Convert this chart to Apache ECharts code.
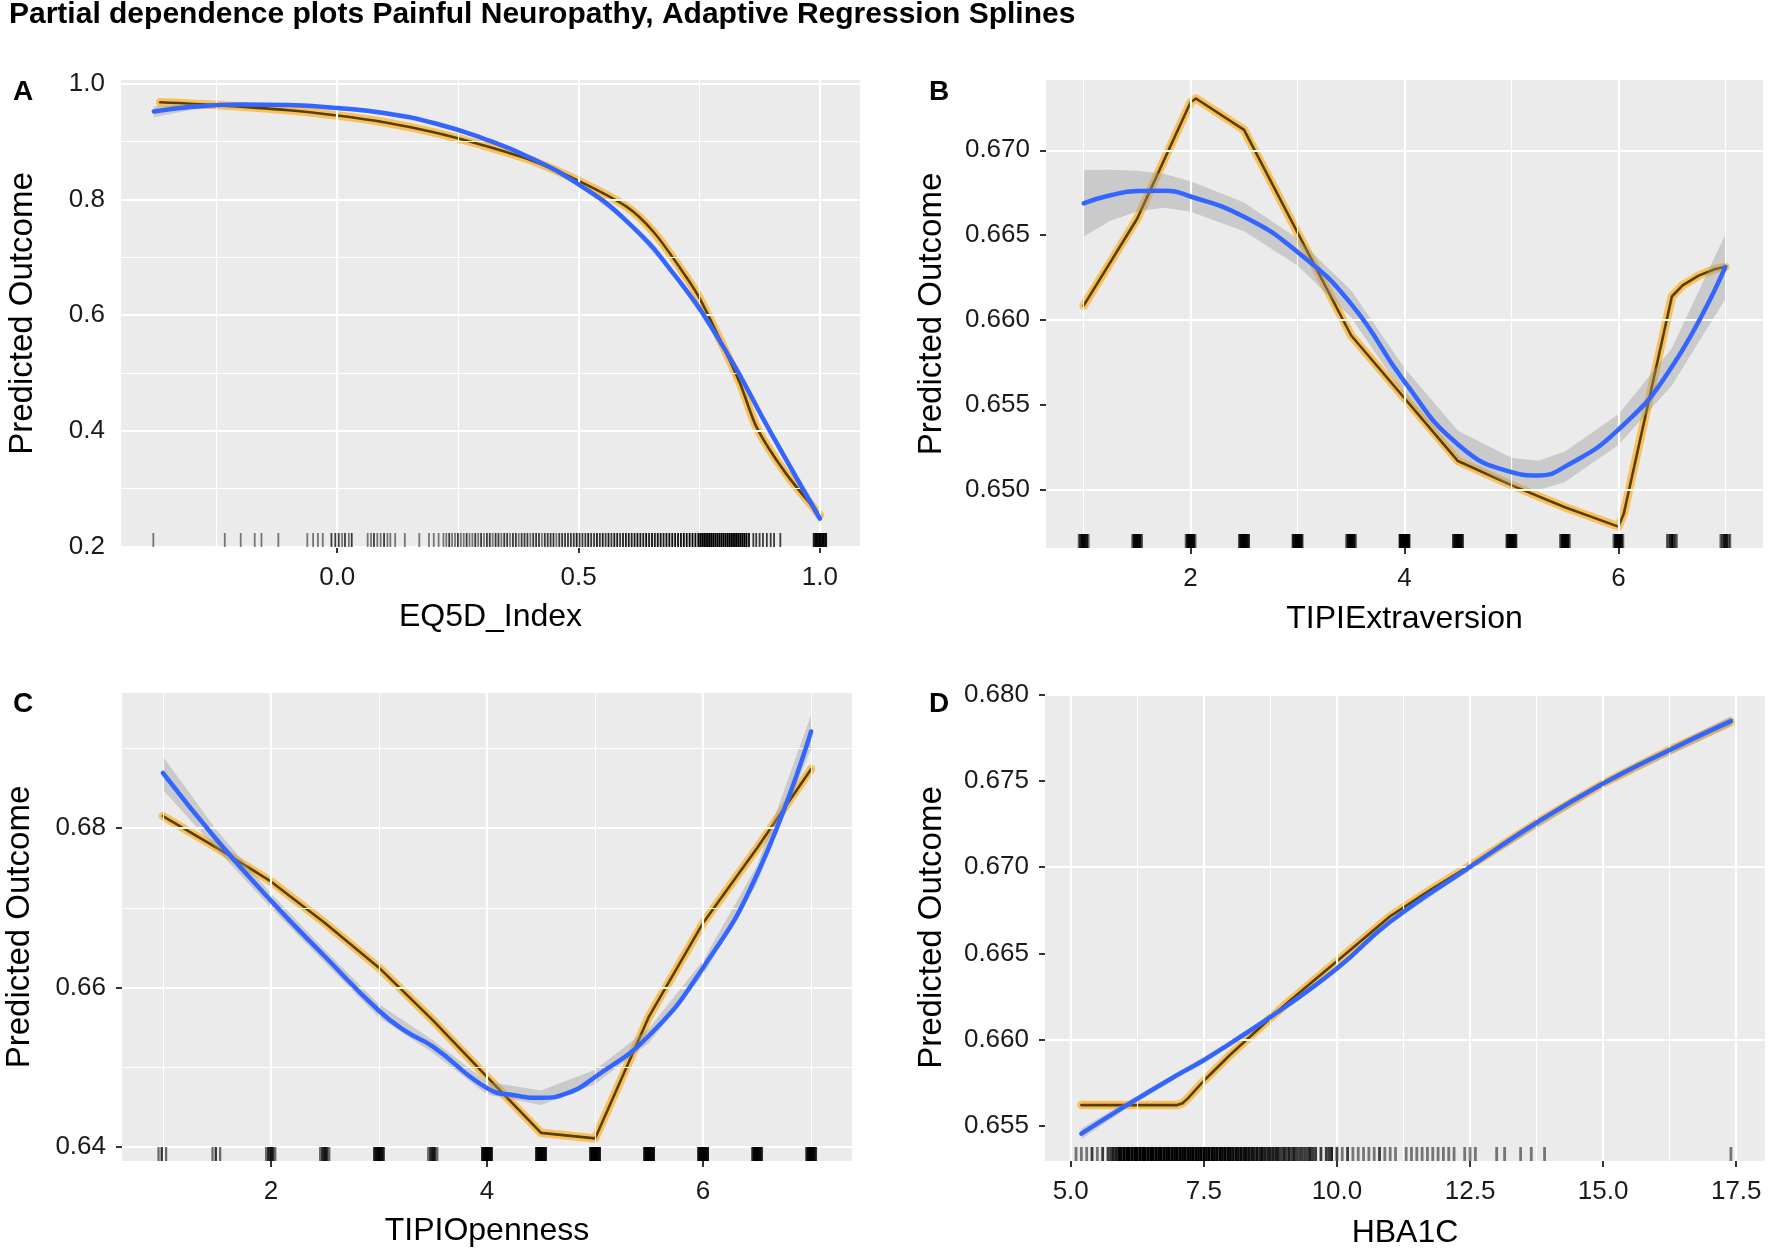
<!DOCTYPE html>
<html><head><meta charset="utf-8">
<script src="https://cdn.jsdelivr.net/npm/echarts@6/dist/echarts.min.js"></script>
<style>html,body{margin:0;padding:0;background:#fff}#c{width:1776px;height:1248px}</style>
</head><body><div id="c"></div><script>
// ---------- text ----------
const titleText = 'Partial dependence plots Painful Neuropathy, Adaptive Regression Splines';
const panelTags = ['A', 'B', 'C', 'D'];
const xNames = ['EQ5D_Index', 'TIPIExtraversion', 'TIPIOpenness', 'HBA1C'];
const yName = 'Predicted Outcome';

// ---------- tick labels / grid values ----------
const xMajorA = [0, 0.5, 1.0];            const xMinorA = [-0.25, 0.25, 0.75];
const yMajorA = [0.2, 0.4, 0.6, 0.8, 1.0]; const yMinorA = [0.3, 0.5, 0.7, 0.9];
const xMajorB = [2, 4, 6];                 const xMinorB = [1, 3, 5, 7];
const yMajorB = [0.650, 0.655, 0.660, 0.665, 0.670];
const yMinorB = [0.6475, 0.6525, 0.6575, 0.6625, 0.6675, 0.6725];
const xMajorC = [2, 4, 6];                 const xMinorC = [1, 3, 5, 7];
const yMajorC = [0.64, 0.66, 0.68];        const yMinorC = [0.65, 0.67, 0.69];
const xMajorD = [5, 7.5, 10, 12.5, 15, 17.5];
const xMinorD = [6.25, 8.75, 11.25, 13.75, 16.25];
const yMajorD = [0.655, 0.660, 0.665, 0.670, 0.675, 0.680];
const yMinorD = [0.6575, 0.6625, 0.6675, 0.6725, 0.6775];

// ---------- series values ----------
// PDP (MARS) curves
const orangeA = [[-0.367,0.968],[-0.25,0.963],[-0.1,0.954],[0,0.945],[0.1,0.933],[0.2,0.916],[0.3,0.894],[0.4,0.868],[0.5,0.832],[0.6,0.787],[0.655,0.744],[0.713,0.678],[0.748,0.633],[0.8,0.545],[0.835,0.481],[0.87,0.404],[0.928,0.328],[1.0,0.254]];
const orangeB = [[1,0.66085],[1.5,0.66597],[2,0.67283],[2.05,0.67305],[2.5,0.6712],[3.5,0.65911],[4.5,0.6517],[5,0.65028],[5.5,0.64898],[6,0.64784],[6.05,0.6486],[6.5,0.66139],[6.6,0.66205],[6.75,0.66262],[6.9,0.663],[7,0.66314]];
const orangeC = [[1,0.6815],[1.5,0.6775],[2,0.6733],[2.5,0.6681],[3,0.6625],[3.5,0.6559],[4,0.6488],[4.5,0.6418],[5,0.6411],[5.5,0.6564],[6,0.6681],[6.5,0.6775],[7,0.6874]];
const orangeD = [[5.2,0.65621],[6,0.65621],[7,0.65621],[7.1,0.65632],[7.2,0.6566],[7.5,0.65762],[8,0.65914],[8.5,0.66055],[9,0.66195],[9.5,0.66325],[10,0.66455],[10.5,0.66585],[11,0.66715],[11.75,0.66867],[12.5,0.67008],[13.75,0.67257],[15,0.67484],[16.25,0.67679],[17.4,0.67842]];
// smoothed fits
const blueA = [[-0.38,0.952],[-0.3,0.960],[-0.2,0.964],[-0.1,0.963],[0,0.958],[0.1,0.949],[0.2,0.932],[0.3,0.906],[0.4,0.872],[0.5,0.826],[0.6,0.762],[0.7,0.668],[0.8,0.545],[0.9,0.394],[1.0,0.248]];
const blueB = [[1,0.66688],[1.25,0.66735],[1.5,0.6676],[1.75,0.66762],[2,0.66728],[2.5,0.66608],[3,0.66401],[3.5,0.66096],[4,0.65638],[4.5,0.65268],[5,0.65105],[5.25,0.65085],[5.5,0.65137],[6,0.65355],[6.5,0.65725],[7,0.66314]];
const blueC = [[1,0.6869],[1.5,0.6785],[2,0.6709],[2.5,0.6639],[3,0.6571],[3.25,0.6545],[3.5,0.6526],[4,0.6474],[4.25,0.6465],[4.5,0.6462],[4.75,0.6468],[5,0.6488],[5.5,0.654],[6,0.6625],[6.5,0.6742],[7,0.6921]];
const blueD = [[5.2,0.65455],[6,0.65611],[7,0.65795],[7.5,0.65881],[8,0.65979],[9,0.66184],[10,0.66412],[11,0.66683],[12.5,0.67001],[13.75,0.67257],[15,0.67484],[16.25,0.67679],[17.4,0.67846]];
// confidence ribbons [x, low, high]
const ribbonA = [[-0.38,0.942,0.961],[-0.3,0.955,0.965],[-0.2,0.961,0.967],[-0.1,0.960,0.966],[0,0.955,0.961],[0.1,0.946,0.952],[0.2,0.929,0.935],[0.3,0.903,0.909],[0.4,0.869,0.875],[0.5,0.823,0.829],[0.6,0.759,0.765],[0.7,0.665,0.671],[0.8,0.541,0.549],[0.9,0.388,0.400],[1.0,0.238,0.258]];
const ribbonB = [[1,0.66492,0.66884],[1.25,0.66585,0.66885],[1.5,0.6664,0.6688],[1.75,0.66662,0.66862],[2,0.66638,0.66818],[2.5,0.66523,0.66693],[3,0.66321,0.66481],[3.5,0.66016,0.66176],[4,0.65558,0.65718],[4.5,0.65188,0.65348],[5,0.6502,0.6519],[5.25,0.64998,0.65172],[5.5,0.65047,0.65227],[6,0.65265,0.65445],[6.5,0.65615,0.65835],[7,0.66124,0.66504]];
const ribbonC = [[1,0.6848,0.689],[1.5,0.6773,0.6797],[2,0.67,0.6718],[2.5,0.6631,0.6647],[3,0.6563,0.6579],[3.5,0.6518,0.6534],[4,0.6466,0.6482],[4.5,0.6453,0.6471],[5,0.6479,0.6497],[5.5,0.6531,0.6549],[6,0.6616,0.6634],[6.5,0.6731,0.6753],[7,0.69,0.6942]];
const ribbonD = [[5.2,0.65425,0.65485],[6,0.65591,0.65631],[7,0.6578,0.6581],[8,0.65965,0.65993],[9,0.6617,0.66198],[10,0.66398,0.66426],[11,0.66669,0.66697],[12.5,0.66985,0.67017],[15,0.67466,0.67502],[17.4,0.67816,0.67876]];

// rug observations [value, count]
const rugA = [[-0.381,1],[-0.233,1],[-0.2,1],[-0.171,1],[-0.157,1],[-0.122,1],
[-0.062,1],[-0.05,1],[-0.04,1],[-0.03,1],[-0.012,2],[-0.004,2],[0.003,2],[0.01,1],[0.016,2],[0.024,1],[0.03,2],
[0.063,1],[0.07,1],[0.076,2],[0.083,1],[0.09,1],[0.097,2],[0.104,1],[0.11,1],[0.12,1],[0.14,1],[0.17,1],[0.19,1],[0.2,1],[0.21,1],
[0.22,1],[0.226,1],[0.232,2],[0.238,1],[0.244,1],[0.25,2],[0.256,1],[0.262,1],[0.268,2],[0.274,1],[0.28,1],[0.286,2],[0.292,1],[0.298,2],
[0.304,1],[0.31,2],[0.316,2],[0.322,1],[0.328,2],[0.334,2],[0.34,1],[0.346,2],[0.352,2],[0.358,1],[0.364,2],[0.37,2],[0.376,1],[0.382,2],
[0.388,2],[0.394,2],[0.4,1],[0.406,2],[0.412,2],[0.418,2],[0.424,1],[0.43,2],[0.436,2],[0.442,2],[0.448,2],[0.454,1],[0.46,2],[0.466,2],
[0.472,2],[0.478,2],[0.484,2],[0.49,2],[0.496,3],[0.502,2],[0.508,2],[0.514,2],[0.52,3],[0.526,2],[0.532,2],[0.538,3],[0.544,2],[0.55,3],
[0.556,2],[0.562,3],[0.568,2],[0.574,3],[0.58,3],[0.586,2],[0.592,3],[0.598,3],[0.604,3],[0.61,3],[0.616,3],[0.622,4],[0.628,3],[0.634,3],
[0.64,4],[0.646,3],[0.652,4],[0.658,3],[0.664,4],[0.67,4],[0.676,3],[0.682,4],[0.688,4],[0.694,4],[0.7,4],[0.706,4],[0.712,4],[0.718,5],
[0.724,4],[0.73,5],[0.736,5],[0.742,5],[0.748,6],[0.752,8],[0.756,8],[0.76,8],[0.764,8],[0.768,8],[0.772,8],[0.776,8],[0.78,8],[0.784,8],
[0.788,8],[0.792,8],[0.796,8],[0.8,8],[0.804,6],[0.808,6],[0.812,8],[0.816,8],[0.82,8],[0.824,8],[0.828,8],[0.832,6],[0.836,8],[0.84,8],
[0.844,8],[0.848,8],[0.853,6],[0.862,2],[0.868,2],[0.875,2],[0.882,2],[0.89,2],[0.898,2],[0.905,2],[0.918,2],
[0.987,3],[0.99,6],[0.993,8],[0.996,10],[0.999,10],[1.002,10],[1.005,10],[1.008,8],[1.011,6],[1.013,3]];
const rugB = [
[0.956,1],[0.97,2],[0.985,3],[1.0,4],[1.015,3],[1.03,2],[1.044,1],
[1.456,1],[1.47,3],[1.485,4],[1.5,5],[1.515,4],[1.53,3],[1.544,1],
[1.956,1],[1.97,3],[1.985,4],[2.0,5],[2.015,4],[2.03,3],[2.044,1],
[2.456,2],[2.47,3],[2.485,4],[2.5,5],[2.515,4],[2.53,3],[2.544,2],
[2.956,2],[2.97,3],[2.985,5],[3.0,6],[3.015,5],[3.03,3],[3.044,2],
[3.456,1],[3.47,3],[3.485,4],[3.5,5],[3.515,4],[3.53,3],[3.544,1],
[3.956,3],[3.97,5],[3.985,7],[4.0,8],[4.015,7],[4.03,5],[4.044,3],
[4.456,2],[4.47,3],[4.485,5],[4.5,6],[4.515,5],[4.53,3],[4.544,2],
[4.956,2],[4.97,3],[4.985,5],[5.0,6],[5.015,5],[5.03,3],[5.044,2],
[5.456,1],[5.47,3],[5.485,4],[5.5,5],[5.515,4],[5.53,3],[5.544,1],
[5.956,1],[5.97,3],[5.985,4],[6.0,5],[6.015,4],[6.03,3],[6.044,1],
[6.456,1],[6.47,1],[6.485,2],[6.5,3],[6.515,2],[6.53,1],[6.544,1],
[6.956,1],[6.97,1],[6.985,2],[7.0,3],[7.015,2],[7.03,1],[7.044,1]];
const rugC = [
[0.96,1],[0.99,2],[1.03,1],
[1.46,1],[1.49,2],[1.53,1],
[1.956,1],[1.975,2],[1.99,2],[2.005,3],[2.02,2],[2.04,1],
[2.456,1],[2.475,2],[2.49,2],[2.505,3],[2.52,2],[2.54,1],
[2.956,2],[2.97,3],[2.985,4],[3.0,5],[3.015,4],[3.03,3],[3.044,2],
[3.456,1],[3.475,2],[3.49,2],[3.505,3],[3.52,2],[3.54,1],
[3.956,3],[3.97,5],[3.985,7],[4.0,8],[4.015,7],[4.03,5],[4.044,3],
[4.456,3],[4.47,5],[4.485,7],[4.5,8],[4.515,7],[4.53,5],[4.544,3],
[4.956,3],[4.97,5],[4.985,7],[5.0,8],[5.015,7],[5.03,5],[5.044,3],
[5.456,3],[5.47,5],[5.485,7],[5.5,8],[5.515,7],[5.53,5],[5.544,3],
[5.956,3],[5.97,5],[5.985,7],[6.0,8],[6.015,7],[6.03,5],[6.044,3],
[6.456,2],[6.47,4],[6.485,5],[6.5,6],[6.515,5],[6.53,4],[6.544,2],
[6.956,2],[6.97,4],[6.985,5],[7.0,6],[7.015,5],[7.03,4],[7.044,2]];
const rugD = [[5.1,1],[5.2,1],[5.3,1],[5.4,2],[5.5,1],[5.6,2],[5.7,2],[5.75,2],[5.8,3],[5.85,3],
[5.9,5],[5.95,5],[6.0,7],[6.05,6],[6.1,7],[6.15,6],[6.2,8],[6.25,7],[6.3,8],[6.35,7],[6.4,8],[6.45,7],[6.5,8],[6.55,7],
[6.6,8],[6.65,8],[6.7,8],[6.75,8],[6.8,8],[6.85,8],[6.9,8],[6.95,8],[7.0,8],[7.05,8],[7.1,8],[7.15,7],[7.2,8],[7.25,7],
[7.3,8],[7.35,7],[7.4,7],[7.45,7],[7.5,7],[7.55,6],[7.6,7],[7.65,6],[7.7,6],[7.75,5],[7.8,6],[7.85,5],[7.9,6],[7.95,5],
[8.0,6],[8.05,4],[8.1,5],[8.15,4],[8.2,5],[8.25,4],[8.3,4],[8.35,4],[8.4,4],[8.45,3],[8.5,4],[8.55,3],[8.6,4],[8.65,3],
[8.7,3],[8.75,3],[8.8,3],[8.85,3],[8.9,3],[8.95,2],[9.0,3],[9.05,2],[9.1,3],[9.15,2],[9.2,3],[9.25,2],[9.3,2],[9.35,2],
[9.4,2],[9.45,2],[9.5,3],[9.55,2],[9.6,2],[9.7,2],[9.8,2],[9.85,2],[9.9,3],
[10.0,2],[10.1,1],[10.2,2],[10.3,1],[10.4,1],[10.5,1],[10.6,1],[10.7,1],[10.8,2],[10.9,1],[11.0,1],[11.1,1],[11.3,1],
[11.4,1],[11.5,1],[11.6,1],[11.7,1],[11.8,1],[11.9,1],[12.0,1],[12.1,1],[12.2,1],[12.4,1],[12.5,1],[12.6,1],
[13.0,1],[13.15,1],[13.45,1],[13.65,1],[13.9,1],[17.4,1]];

// ---------- layout / style (not data) ----------
const FONT = '"Liberation Sans", Arial, Helvetica, sans-serif';
const panels = [
  {grid:{left:121,top:80,width:739,height:467}, xr:[-0.448,1.083], yr:[0.199,1.0064], xMaj:xMajorA, xMin:xMinorA, yMaj:yMajorA, yMin:yMinorA, xDec:1, yDec:1,
   orange:orangeA, blue:blueA, ribbon:ribbonA, rug:rugA, rugW:1.8, rugUnit:0.5, oSmooth:0.3, tag:[13,78], yGap:82, xGap:54},
  {grid:{left:1046,top:80,width:717,height:468}, xr:[0.648,7.352], yr:[0.64658,0.67414], xMaj:xMajorB, xMin:xMinorB, yMaj:yMajorB, yMin:yMinorB, xDec:0, yDec:3,
   orange:orangeB, blue:blueB, ribbon:ribbonB, rug:rugB, rugW:2.3, rugUnit:0.6, oSmooth:false, tag:[929,78], yGap:98, xGap:55},
  {grid:{left:122,top:693,width:730,height:468}, xr:[0.622,7.378], yr:[0.63827,0.69692], xMaj:xMajorC, xMin:xMinorC, yMaj:yMajorC, yMin:yMinorC, xDec:0, yDec:2,
   orange:orangeC, blue:blueC, ribbon:ribbonC, rug:rugC, rugW:2.3, rugUnit:0.55, oSmooth:false, tag:[13,690], yGap:86, xGap:54},
  {grid:{left:1045,top:694,width:720,height:467}, xr:[4.517,18.04], yr:[0.65297,0.68003], xMaj:xMajorD, xMin:xMinorD, yMaj:yMajorD, yMin:yMinorD, xDec:1, yDec:3,
   orange:orangeD, blue:blueD, ribbon:ribbonD, rug:rugD, rugW:2.8, rugUnit:0.5, oSmooth:false, tag:[929,690], yGap:97, xGap:56}
];

const chart = echarts.init(document.getElementById('c'), null, {renderer:'canvas', width:1776, height:1248});

const grids = [], xAxes = [], yAxes = [], series = [];
const titles = [{text:titleText, left:9, top:0, padding:0,
  textStyle:{fontFamily:FONT, fontSize:30, fontWeight:'bold', color:'#000'}}];

panels.forEach(function(p, i){
  grids.push(Object.assign({show:true, backgroundColor:'#EBEBEB', borderWidth:0, containLabel:false, outerBoundsMode:'none'}, p.grid));
  titles.push({text:panelTags[i], left:p.tag[0], top:p.tag[1], padding:0,
    textStyle:{fontFamily:FONT, fontSize:28, fontWeight:'bold', color:'#000'}});
  xAxes.push({type:'value', gridIndex:i, min:p.xr[0], max:p.xr[1],
    axisLine:{show:false},
    axisTick:{show:true, customValues:p.xMaj, length:6, lineStyle:{color:'#333', width:2}},
    axisLabel:{show:true, customValues:p.xMaj, margin:18, fontSize:26, fontFamily:FONT, color:'#1a1a1a',
      formatter:function(v){ return Number(v).toFixed(p.xDec); }},
    splitLine:{show:false},
    name:xNames[i], nameLocation:'middle', nameGap:p.xGap,
    nameTextStyle:{fontSize:32, fontFamily:FONT, color:'#000'}});
  yAxes.push({type:'value', gridIndex:i, min:p.yr[0], max:p.yr[1],
    axisLine:{show:false},
    axisTick:{show:true, customValues:p.yMaj, length:6, lineStyle:{color:'#333', width:2}},
    axisLabel:{show:true, customValues:p.yMaj, margin:16, fontSize:26, fontFamily:FONT, color:'#1a1a1a',
      formatter:function(v){ return Number(v).toFixed(p.yDec); }},
    splitLine:{show:false},
    name:yName, nameLocation:'middle', nameGap:p.yGap,
    nameTextStyle:{fontSize:33, fontFamily:FONT, color:'#000'}});

  // grid lines (white), placed at axis values
  const ml = [];
  p.xMin.forEach(function(v){ ml.push({xAxis:v, lineStyle:{width:1.1}}); });
  p.yMin.forEach(function(v){ ml.push({yAxis:v, lineStyle:{width:1.1}}); });
  p.xMaj.forEach(function(v){ ml.push({xAxis:v, lineStyle:{width:2.2}}); });
  p.yMaj.forEach(function(v){ ml.push({yAxis:v, lineStyle:{width:2.2}}); });
  series.push({type:'line', xAxisIndex:i, yAxisIndex:i, z:1, silent:true, data:[[p.xr[0], p.yr[0]]],
    showSymbol:false, symbol:'none', lineStyle:{width:0},
    markLine:{silent:true, symbol:['none','none'], label:{show:false}, animation:false,
      lineStyle:{color:'#FFFFFF', type:'solid', width:2}, emphasis:{disabled:true}, data:ml}});

  // orange PDP band + dark core
  series.push({type:'line', xAxisIndex:i, yAxisIndex:i, z:2, silent:true, data:p.orange, symbol:'none', smooth:p.oSmooth,
    lineStyle:{width:8.5, color:'rgba(255,165,0,0.6)', cap:'round', join:'round'}});
  series.push({type:'line', xAxisIndex:i, yAxisIndex:i, z:3, silent:true, data:p.orange, symbol:'none', smooth:p.oSmooth,
    lineStyle:{width:2.6, color:'#5a3e00', cap:'round', join:'round'}});

  // ribbon
  const rib = p.ribbon;
  series.push({type:'custom', xAxisIndex:i, yAxisIndex:i, z:4, silent:true, data:rib.map(function(r){ return [r[0], r[1]]; }),
    renderItem:function(params, api){
      if (params.dataIndex !== 0) return null;
      const pts = [];
      for (let k = 0; k < rib.length; k++) pts.push(api.coord([rib[k][0], rib[k][2]]));
      for (let k = rib.length - 1; k >= 0; k--) pts.push(api.coord([rib[k][0], rib[k][1]]));
      return {type:'polygon', shape:{points:pts}, style:{fill:'rgba(153,153,153,0.4)'}};
    }});

  // smooth fit
  series.push({type:'line', xAxisIndex:i, yAxisIndex:i, z:5, silent:true, data:p.blue, symbol:'none', smooth:0.5,
    lineStyle:{width:4.5, color:'#3366FF', cap:'round'}});

  // rug
  const y0 = p.yr[0], rw = p.rugW, ru = p.rugUnit;
  series.push({type:'custom', xAxisIndex:i, yAxisIndex:i, z:6, silent:true, data:p.rug,
    renderItem:function(params, api){
      const pt = api.coord([api.value(0), y0]);
      const a = 1 - Math.pow(1 - ru, api.value(1));
      return {type:'line', shape:{x1:pt[0], y1:pt[1], x2:pt[0], y2:pt[1] - 14},
        style:{stroke:'rgba(0,0,0,' + a.toFixed(3) + ')', lineWidth:rw}};
    }});
});

chart.setOption({
  animation:false,
  backgroundColor:'#FFFFFF',
  title:titles,
  grid:grids,
  xAxis:xAxes,
  yAxis:yAxes,
  series:series
});
</script></body></html>
